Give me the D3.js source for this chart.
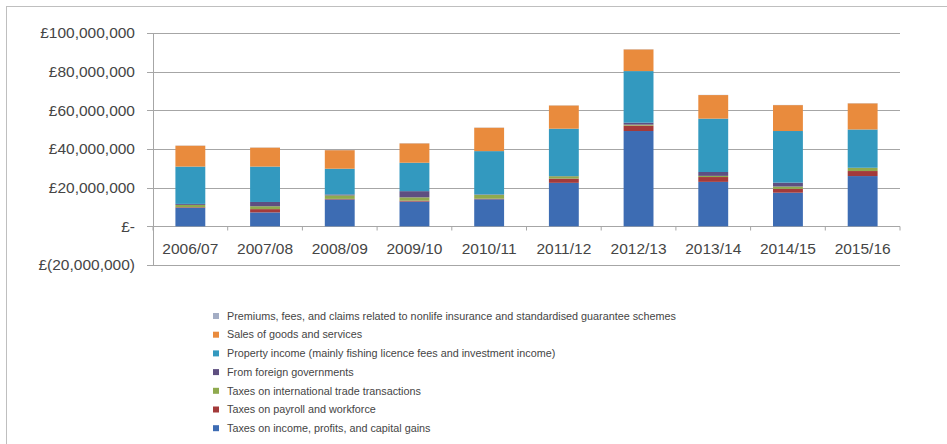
<!DOCTYPE html>
<html>
<head>
<meta charset="utf-8">
<script src="https://cdn.jsdelivr.net/npm/d3@7"></script>
<style>
  body { margin: 0; background: #fff; }
  text { font-family: "Liberation Sans", Arial, sans-serif; fill: #454545; }
</style>
</head>
<body>
<svg id="chart"></svg>
<script>
const width = 947;
const height = 444;

// years along the x axis
const years = ["2006/07", "2007/08", "2008/09", "2009/10", "2010/11",
               "2011/12", "2012/13", "2013/14", "2014/15", "2015/16"];

// series, bottom of stack first (values in £ millions)
const incomeTax   = [9.6, 7.2, 13.9, 12.8, 14.0, 22.5, 49.3, 23.0, 17.4, 26.0];
const payrollTax  = [0.3, 1.7, 0.3, 0.5, 0.3, 2.2, 2.8, 2.5, 2.0, 2.6];
const tradeTax    = [1.2, 1.5, 1.8, 1.7, 2.0, 1.2, 0.5, 0.6, 1.2, 1.7];
const foreignGov  = [0.5, 2.2, 0.5, 3.2, 0.2, 0.1, 1.0, 2.0, 2.0, 0.0];
const property    = [19.3, 18.3, 13.3, 14.7, 22.4, 24.5, 26.7, 27.6, 26.7, 19.8];
const sales       = [10.8, 9.8, 9.6, 10.0, 12.1, 12.0, 11.2, 12.2, 13.4, 13.5];
const premiums    = [0.1, 0.1, 0.1, 0.1, 0.1, 0.1, 0.1, 0.1, 0.1, 0.1];

const seriesNames = [
  "Taxes on income, profits, and capital gains",
  "Taxes on payroll and workforce",
  "Taxes on international trade transactions",
  "From foreign governments",
  "Property income (mainly fishing licence fees and investment income)",
  "Sales of goods and services",
  "Premiums, fees, and claims related to nonlife insurance and standardised guarantee schemes"
];
const seriesValues = [incomeTax, payrollTax, tradeTax, foreignGov, property, sales, premiums];
const colors = ["#3d6cb3", "#a33a3a", "#8faa4e", "#5e4f80", "#3399bf", "#e98b3d", "#a3adc4"];

const yTicks = [-20, 0, 20, 40, 60, 80, 100];

const svg = d3.select("#chart")
    .attr("width", width)
    .attr("height", height);

// outer frame (only top and left visible)
svg.append("rect")
    .attr("x", 6.5).attr("y", 6.5)
    .attr("width", 960).attr("height", 460)
    .attr("fill", "none")
    .attr("stroke", "#bfbfbf");

const x = d3.scaleBand()
    .domain(years)
    .range([153, 900])
    .paddingInner(0.6)
    .paddingOuter(0.3);

const y = d3.scaleLinear()
    .domain([-20, 100])
    .range([265, 33]);

// gridlines
svg.append("g")
    .selectAll("line")
    .data(yTicks)
    .enter().append("line")
    .attr("x1", 147).attr("x2", 900)
    .attr("y1", d => Math.round(y(d)) + 0.5)
    .attr("y2", d => Math.round(y(d)) + 0.5)
    .attr("stroke", "#a6a6a6")
    .attr("stroke-width", 1.2);

// y axis labels
const fmt = d => {
  if (d === 0) return "£-";
  const s = d3.format(",")(Math.abs(d) * 1e6);
  return d < 0 ? "£(" + s + ")" : "£" + s;
};
svg.append("g")
    .selectAll("text")
    .data(yTicks)
    .enter().append("text")
    .attr("x", 135)
    .attr("y", d => y(d))
    .attr("dy", "0.35em")
    .attr("text-anchor", "end")
    .style("font-size", "15.5px")
    .text(fmt);

// stacked bars
const table = years.map((yr, i) => {
  const row = {year: yr};
  seriesNames.forEach((n, k) => row[n] = seriesValues[k][i]);
  return row;
});
const stacked = d3.stack().keys(seriesNames)(table);

svg.append("g")
    .selectAll("g")
    .data(stacked)
    .enter().append("g")
    .attr("fill", (d, i) => colors[i])
    .selectAll("rect")
    .data(d => d)
    .enter().append("rect")
    .attr("x", d => x(d.data.year))
    .attr("width", x.bandwidth())
    .attr("y", d => y(d[1]))
    .attr("height", d => y(d[0]) - y(d[1]));

// y axis line
svg.append("line")
    .attr("x1", 153.5).attr("x2", 153.5)
    .attr("y1", y(100)).attr("y2", y(-20))
    .attr("stroke", "#a6a6a6");

// category axis at zero with tick marks
const zeroY = Math.round(y(0)) + 0.5;
const bounds = d3.range(years.length + 1).map(i => 153 + i * (747 / years.length));
svg.append("g")
    .selectAll("line")
    .data(bounds)
    .enter().append("line")
    .attr("x1", d => d).attr("x2", d => d)
    .attr("y1", zeroY).attr("y2", zeroY + 4)
    .attr("stroke", "#a6a6a6");

svg.append("g")
    .selectAll("text")
    .data(years)
    .enter().append("text")
    .attr("x", d => x(d) + x.bandwidth() / 2)
    .attr("y", 249)
    .attr("dy", "0.35em")
    .attr("text-anchor", "middle")
    .style("font-size", "15.5px")
    .text(d => d);

// legend, top entry is last series
const legendData = seriesNames.map((n, i) => ({name: n, color: colors[i]})).reverse();
const legend = svg.append("g")
    .selectAll("g")
    .data(legendData)
    .enter().append("g")
    .attr("transform", (d, i) => `translate(213, ${316 + i * 18.7})`);

legend.append("rect")
    .attr("x", 0).attr("y", -3)
    .attr("width", 6).attr("height", 6)
    .attr("fill", d => d.color);

legend.append("text")
    .attr("x", 14)
    .attr("dy", "0.35em")
    .style("font-size", "10.8px")
    .text(d => d.name);
</script>
</body>
</html>
